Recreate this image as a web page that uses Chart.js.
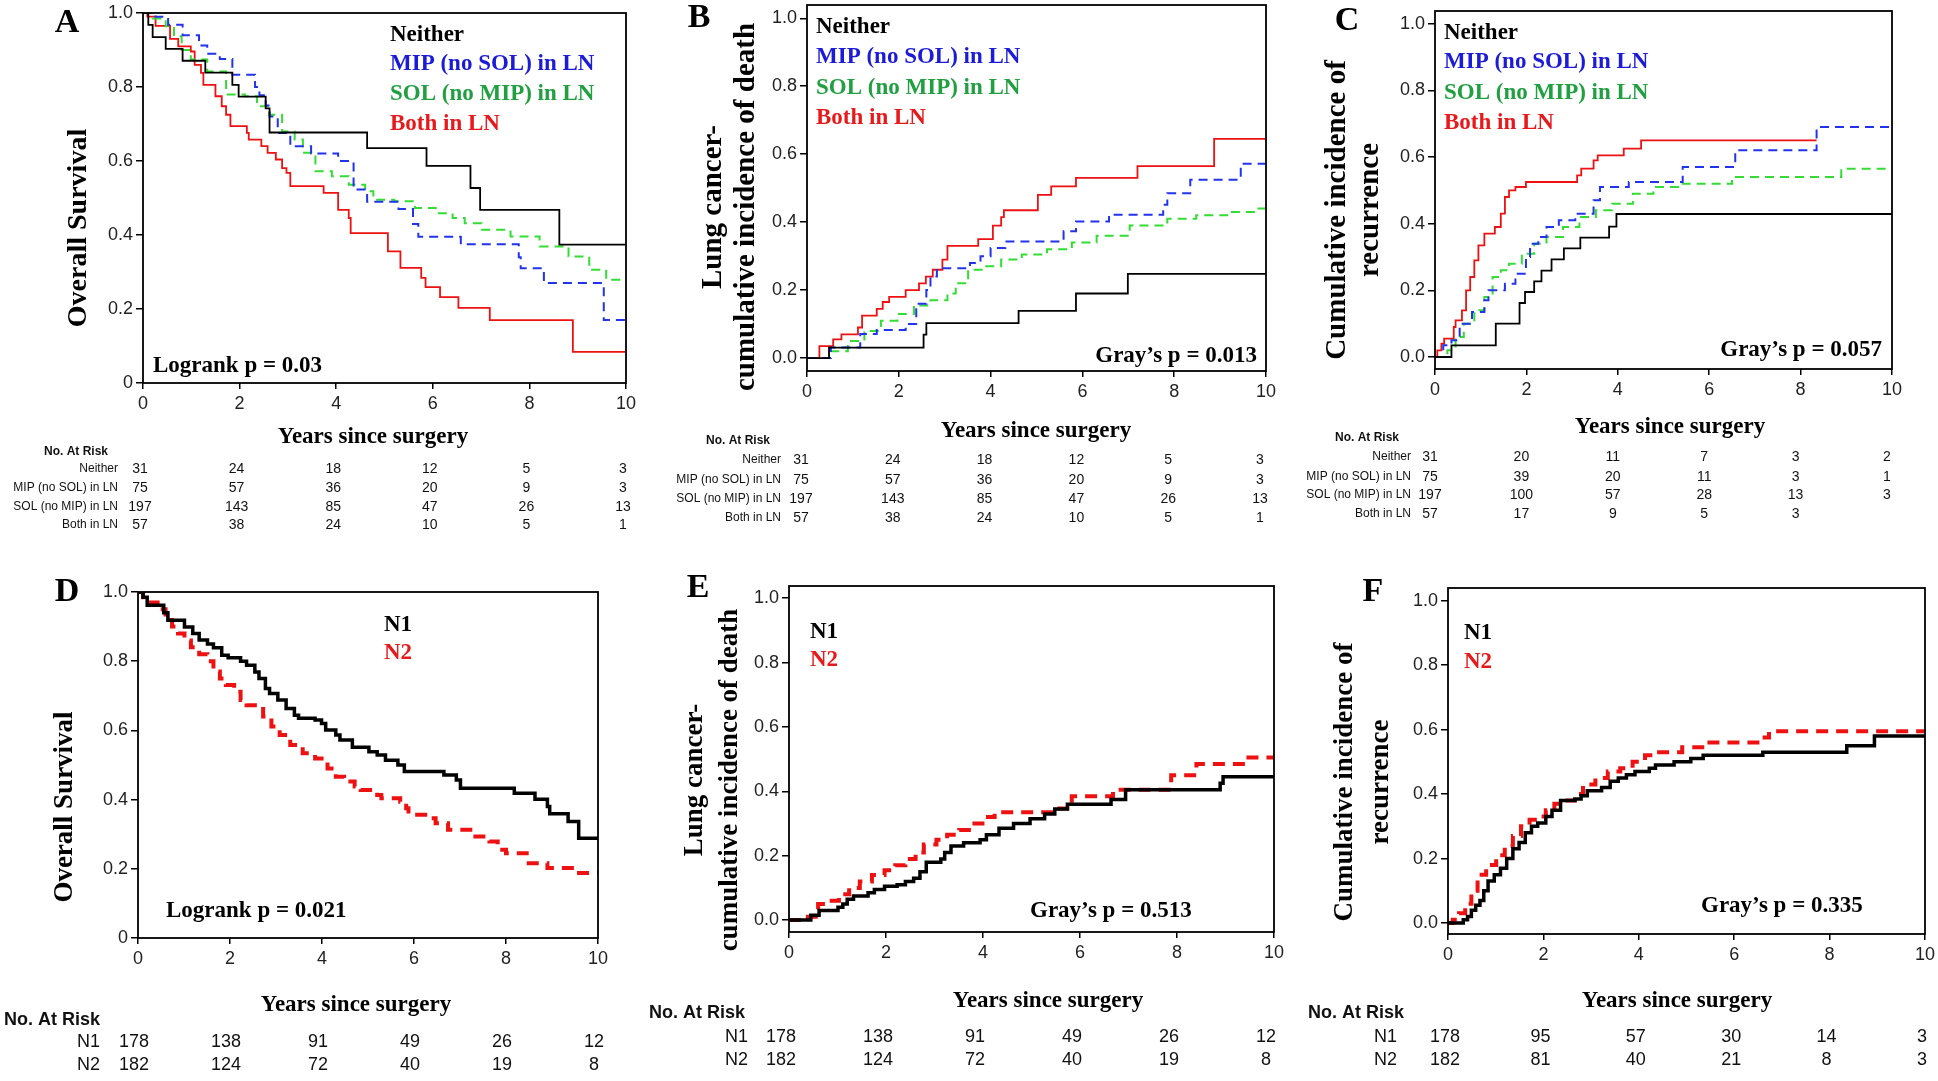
<!DOCTYPE html>
<html>
<head>
<meta charset="utf-8">
<script src="https://cdn.jsdelivr.net/npm/chart.js@4.4.1/dist/chart.umd.min.js"></script>
<style>
  body { margin: 0; background: #fff; width: 1938px; height: 1081px; overflow: hidden; position: relative; }
</style>
</head>
<body>
<script>
// ---- data (years since surgery, value after the step) ----
const xTickValues = [0, 2, 4, 6, 8, 10];
const yTickValues = [0, 0.2, 0.4, 0.6, 0.8, 1.0];
const groupsABC = ['Neither', 'MIP (no SOL) in LN', 'SOL (no MIP) in LN', 'Both in LN'];
const groupsDEF = ['N1', 'N2'];

// A: overall survival
const survNeither = [[0,1],[0.11,0.968],[0.2,0.935],[0.47,0.903],[0.82,0.871],[1.29,0.839],[1.85,0.806],[1.98,0.774],[2.54,0.742],[2.62,0.677],[4.64,0.635],[5.87,0.587],[6.78,0.527],[6.98,0.468],[8.62,0.374],[10,0.374]];
const survMIP = [[0,1],[0.26,0.99],[0.52,0.968],[0.82,0.94],[1.16,0.912],[1.33,0.89],[1.59,0.876],[1.85,0.833],[2.32,0.8],[2.41,0.778],[2.54,0.75],[2.62,0.72],[2.79,0.676],[3.05,0.64],[3.48,0.62],[4.04,0.6],[4.36,0.523],[4.64,0.49],[5.29,0.47],[5.59,0.43],[5.7,0.395],[6.58,0.375],[7.78,0.34],[7.82,0.31],[8.3,0.27],[9.54,0.17],[10,0.17]];
const survSOL = [[0,1],[0.2,0.985],[0.47,0.964],[0.64,0.937],[0.8,0.9],[0.99,0.874],[1.33,0.842],[1.72,0.78],[2.11,0.775],[2.36,0.748],[2.62,0.725],[2.88,0.68],[3.14,0.658],[3.31,0.622],[3.57,0.572],[3.91,0.559],[4.26,0.536],[4.6,0.518],[4.77,0.495],[5.2,0.491],[5.63,0.473],[6.06,0.459],[6.41,0.446],[6.66,0.432],[7.01,0.414],[7.61,0.396],[8.21,0.369],[8.81,0.342],[9.24,0.306],[9.59,0.279],[10,0.279]];
const survBoth = [[0,1],[0.09,0.99],[0.26,0.965],[0.56,0.93],[0.73,0.91],[0.99,0.896],[1.07,0.86],[1.2,0.838],[1.25,0.806],[1.5,0.775],[1.63,0.748],[1.72,0.725],[1.81,0.694],[2.15,0.676],[2.19,0.658],[2.45,0.64],[2.58,0.622],[2.75,0.604],[2.88,0.581],[2.97,0.568],[3.05,0.532],[3.74,0.514],[4.04,0.468],[4.26,0.446],[4.3,0.405],[5.07,0.356],[5.33,0.311],[5.76,0.284],[5.85,0.259],[6.15,0.232],[6.53,0.203],[7.18,0.17],[8.9,0.084],[10,0.084]];

// B: lung cancer cumulative incidence of death
const deathNeither = [[0,0],[0.48,0.031],[2.54,0.069],[2.6,0.103],[4.61,0.139],[5.86,0.19],[6.99,0.248],[10,0.248]];
const deathMIP = [[0,0],[0.52,0.031],[1.16,0.071],[1.52,0.083],[2.15,0.1],[2.38,0.16],[2.6,0.2],[2.69,0.24],[2.83,0.264],[3.55,0.28],[3.78,0.3],[4.0,0.324],[4.32,0.343],[5.59,0.373],[5.86,0.402],[6.58,0.422],[7.76,0.451],[7.85,0.485],[8.35,0.525],[9.45,0.572],[10,0.572]];
const deathSOL = [[0,0],[0.52,0.02],[0.89,0.05],[1.25,0.08],[1.61,0.11],[1.97,0.13],[2.33,0.155],[2.69,0.17],[3.06,0.19],[3.24,0.22],[3.51,0.26],[3.87,0.27],[4.23,0.29],[4.68,0.305],[5.23,0.32],[5.77,0.34],[6.31,0.36],[7.03,0.39],[7.85,0.41],[8.48,0.42],[9.2,0.43],[9.8,0.44],[10,0.44]];
const deathBoth = [[0,0],[0.27,0.035],[0.57,0.055],[0.75,0.07],[1.11,0.09],[1.2,0.125],[1.52,0.145],[1.65,0.165],[1.79,0.18],[2.15,0.2],[2.44,0.22],[2.59,0.24],[2.74,0.26],[2.95,0.29],[3.06,0.33],[3.73,0.35],[4.05,0.39],[4.23,0.415],[4.29,0.435],[5.03,0.48],[5.32,0.505],[5.86,0.53],[7.2,0.565],[8.87,0.645],[10,0.645]];

// C: cumulative incidence of recurrence
const recurNeither = [[0,0],[0.36,0.035],[1.33,0.1],[1.85,0.162],[1.97,0.195],[2.17,0.227],[2.33,0.259],[2.55,0.293],[2.82,0.326],[3.18,0.358],[3.81,0.391],[3.97,0.429],[10,0.429]];
const recurMIP = [[0,0],[0.18,0.035],[0.36,0.05],[0.54,0.1],[0.81,0.135],[1.08,0.17],[1.17,0.2],[1.53,0.22],[1.76,0.25],[1.99,0.3],[2.08,0.34],[2.26,0.36],[2.44,0.39],[2.71,0.41],[3.07,0.43],[3.47,0.47],[3.61,0.51],[4.24,0.525],[5.42,0.57],[6.57,0.62],[8.35,0.69],[10,0.69]];
const recurSOL = [[0,0],[0.27,0.02],[0.45,0.06],[0.63,0.1],[0.86,0.14],[1.08,0.18],[1.26,0.24],[1.44,0.26],[1.62,0.28],[1.9,0.31],[2.17,0.34],[2.44,0.36],[2.8,0.39],[3.16,0.42],[3.52,0.44],[3.88,0.46],[4.33,0.49],[4.78,0.51],[5.32,0.52],[6.5,0.54],[8.89,0.565],[10,0.565]];
const recurBoth = [[0,0],[0.05,0.02],[0.14,0.04],[0.2,0.055],[0.41,0.09],[0.45,0.11],[0.59,0.14],[0.68,0.2],[0.77,0.24],[0.86,0.29],[0.95,0.335],[1.08,0.37],[1.31,0.39],[1.44,0.43],[1.53,0.48],[1.62,0.5],[1.76,0.51],[1.99,0.525],[3.11,0.545],[3.2,0.565],[3.47,0.59],[3.56,0.605],[4.13,0.625],[4.51,0.65],[8.35,0.65]];

// D: overall survival N1 / N2
const survN1 = [[0,1],[0.11,0.985],[0.2,0.962],[0.56,0.94],[0.65,0.918],[1.01,0.899],[1.19,0.88],[1.33,0.861],[1.51,0.85],[1.64,0.839],[1.82,0.817],[1.96,0.81],[2.23,0.8],[2.36,0.788],[2.54,0.769],[2.63,0.75],[2.77,0.721],[2.86,0.707],[3.04,0.688],[3.22,0.663],[3.4,0.644],[3.49,0.635],[3.85,0.63],[3.99,0.62],[4.08,0.601],[4.3,0.587],[4.39,0.572],[4.66,0.551],[5.02,0.538],[5.2,0.529],[5.38,0.514],[5.65,0.5],[5.79,0.481],[6.65,0.471],[6.92,0.457],[7.01,0.433],[8.18,0.418],[8.63,0.401],[8.9,0.38],[8.95,0.359],[9.35,0.337],[9.58,0.288],[10,0.288]];
const survN2 = [[0,1],[0.11,0.985],[0.24,0.97],[0.47,0.95],[0.6,0.925],[0.74,0.9],[0.87,0.88],[1.01,0.86],[1.15,0.84],[1.33,0.82],[1.51,0.8],[1.64,0.77],[1.78,0.75],[1.91,0.731],[2.09,0.712],[2.23,0.688],[2.36,0.673],[2.59,0.668],[2.72,0.64],[2.9,0.611],[3.08,0.587],[3.31,0.558],[3.58,0.534],[3.85,0.519],[4.12,0.49],[4.3,0.466],[4.48,0.452],[4.71,0.438],[4.84,0.428],[5.2,0.413],[5.29,0.404],[5.7,0.394],[5.83,0.375],[5.88,0.356],[6.38,0.346],[6.47,0.332],[6.74,0.313],[7.28,0.293],[7.64,0.279],[7.82,0.255],[8.0,0.245],[8.45,0.216],[8.9,0.202],[9.53,0.188],[10,0.188]];

// E: lung cancer death N1 / N2
const deathN1 = [[0,0],[0.45,0.015],[0.62,0.03],[1.01,0.04],[1.11,0.05],[1.2,0.065],[1.33,0.075],[1.63,0.085],[1.76,0.095],[1.97,0.105],[2.23,0.11],[2.4,0.12],[2.57,0.13],[2.7,0.15],[2.83,0.18],[3.13,0.19],[3.21,0.21],[3.34,0.23],[3.6,0.24],[3.94,0.25],[4.07,0.265],[4.33,0.285],[4.63,0.3],[4.97,0.315],[5.27,0.33],[5.48,0.345],[5.74,0.36],[6.64,0.375],[6.94,0.405],[8.89,0.425],[8.95,0.445],[10,0.445]];
const deathN2 = [[0,0],[0.39,0.01],[0.6,0.05],[0.77,0.06],[1.03,0.08],[1.24,0.1],[1.46,0.12],[1.71,0.14],[1.97,0.155],[2.19,0.17],[2.4,0.19],[2.61,0.21],[2.78,0.235],[3.04,0.25],[3.26,0.265],[3.51,0.28],[3.77,0.3],[4.03,0.32],[4.24,0.335],[5.48,0.347],[5.83,0.385],[6.68,0.405],[7.88,0.45],[8.4,0.485],[9.43,0.505],[10,0.505]];

// F: recurrence N1 / N2
const recurN1 = [[0,0],[0.32,0.01],[0.41,0.02],[0.49,0.04],[0.58,0.055],[0.67,0.07],[0.75,0.1],[0.84,0.13],[0.97,0.15],[1.1,0.17],[1.23,0.2],[1.36,0.23],[1.49,0.25],[1.62,0.28],[1.75,0.3],[1.88,0.31],[2.05,0.33],[2.18,0.35],[2.36,0.38],[2.66,0.385],[2.79,0.395],[2.92,0.41],[3.22,0.42],[3.4,0.44],[3.57,0.45],[3.74,0.46],[3.92,0.47],[4.22,0.48],[4.35,0.49],[4.74,0.5],[5.09,0.51],[5.35,0.52],[6.6,0.53],[8.36,0.55],[8.94,0.58],[10,0.58]];
const recurN2 = [[0,0],[0.1,0.01],[0.23,0.03],[0.36,0.06],[0.49,0.1],[0.62,0.15],[0.8,0.18],[1.01,0.21],[1.19,0.24],[1.36,0.27],[1.53,0.3],[1.71,0.32],[1.88,0.33],[2.05,0.35],[2.23,0.37],[2.4,0.38],[2.66,0.4],[2.83,0.43],[3.09,0.45],[3.35,0.47],[3.61,0.48],[3.87,0.5],[4.13,0.52],[4.31,0.53],[4.91,0.545],[5.43,0.56],[6.56,0.575],[6.73,0.595],[10,0.595]];

// numbers at risk at 0, 2, 4, 6, 8, 10 years
const riskA = [[31,24,18,12,5,3],[75,57,36,20,9,3],[197,143,85,47,26,13],[57,38,24,10,5,1]];
const riskB = [[31,24,18,12,5,3],[75,57,36,20,9,3],[197,143,85,47,26,13],[57,38,24,10,5,1]];
const riskC = [[31,20,11,7,3,2],[75,39,20,11,3,1],[197,100,57,28,13,3],[57,17,9,5,3,null]];
const riskD = [[178,138,91,49,26,12],[182,124,72,40,19,8]];
const riskE = [[178,138,91,49,26,12],[182,124,72,40,19,8]];
const riskF = [[178,95,57,30,14,3],[182,81,40,21,8,3]];

// ---- styles ----
const SERIF = '"Liberation Serif", "Times New Roman", serif';
const SANS = '"Liberation Sans", Arial, sans-serif';
const stylesABC = [
  { color: '#000000', width: 1.8, dash: [] },
  { color: '#2233ee', width: 2, dash: [9, 6] },
  { color: '#33dd33', width: 2, dash: [9, 6] },
  { color: '#ee1111', width: 1.8, dash: [] }
];
const stylesDEF = [
  { color: '#000000', width: 3.5, dash: [] },
  { color: '#ee1111', width: 4, dash: [12, 8] }
];
const textColorsABC = ['#000000', '#1b1bd9', '#20a040', '#e8191b'];
const textColorsDEF = ['#000000', '#e8191b'];

// page-coordinate layout of each panel
const panels = [
  { letter: 'A', origin: [0, 0], size: [645, 550], area: [143, 13, 626, 383], yRange: [0, 1], zero: '0',
    series: [survNeither, survMIP, survSOL, survBoth], styles: stylesABC, groups: groupsABC, colors: textColorsABC,
    yTitle: ['Overall Survival'], yTitleX: [79], yTitleY: 228, yTitleSize: 28,
    letterPos: [67, 23], legendX: 390, legendY: [35, 64, 94, 124],
    stat: 'Logrank p = 0.03', statPos: [153, 366], statAlign: 'left',
    xTitlePos: [373, 437], risk: riskA, head: [44, 452], labelX: 118, rows: [469, 488, 507, 525], dx: -3, tfont: [12, 12, 14] },
  { letter: 'B', origin: [645, 0], size: [645, 550], area: [807, 5, 1266, 371], yRange: [-0.038, 1.039], zero: '0.0',
    series: [deathNeither, deathMIP, deathSOL, deathBoth], styles: stylesABC, groups: groupsABC, colors: textColorsABC,
    yTitle: ['Lung cancer-', 'cumulative incidence of death'], yTitleX: [714, 747], yTitleY: 207, yTitleSize: 29,
    letterPos: [699, 18], legendX: 816, legendY: [27, 57, 88, 118],
    stat: 'Gray\u2019s p = 0.013', statPos: [1257, 356], statAlign: 'right',
    xTitlePos: [1036, 431], risk: riskB, head: [706, 441], labelX: 781, rows: [460, 480, 499, 518], dx: -6, tfont: [12, 12, 14] },
  { letter: 'C', origin: [1290, 0], size: [648, 550], area: [1435, 11, 1892, 369], yRange: [-0.036, 1.038], zero: '0.0',
    series: [recurNeither, recurMIP, recurSOL, recurBoth], styles: stylesABC, groups: groupsABC, colors: textColorsABC,
    yTitle: ['Cumulative incidence of', 'recurrence'], yTitleX: [1338, 1371], yTitleY: 210, yTitleSize: 29,
    letterPos: [1347, 21], legendX: 1444, legendY: [33, 62, 93, 123],
    stat: 'Gray\u2019s p = 0.057', statPos: [1882, 350], statAlign: 'right',
    xTitlePos: [1670, 427], risk: riskC, head: [1335, 438], labelX: 1411, rows: [457, 477, 495, 514], dx: -5, tfont: [12, 12, 14] },
  { letter: 'D', origin: [0, 550], size: [645, 531], area: [138, 592, 598, 938], yRange: [0, 1], zero: '0',
    series: [survN1, survN2], styles: stylesDEF, groups: groupsDEF, colors: textColorsDEF,
    yTitle: ['Overall Survival'], yTitleX: [65], yTitleY: 807, yTitleSize: 27,
    letterPos: [67, 592], legendX: 384, legendY: [625, 653],
    stat: 'Logrank p = 0.021', statPos: [166, 911], statAlign: 'left',
    xTitlePos: [356, 1005], risk: riskD, head: [4, 1020], labelX: 100, rows: [1042, 1065], dx: -4, tfont: [18, 18, 18] },
  { letter: 'E', origin: [645, 550], size: [645, 531], area: [789, 586, 1274, 932], yRange: [-0.037, 1.038], zero: '0.0',
    series: [deathN1, deathN2], styles: stylesDEF, groups: groupsDEF, colors: textColorsDEF,
    yTitle: ['Lung cancer-', 'cumulative incidence of death'], yTitleX: [695, 730], yTitleY: 780, yTitleSize: 27,
    letterPos: [698, 588], legendX: 810, legendY: [632, 660],
    stat: 'Gray\u2019s p = 0.513', statPos: [1030, 911], statAlign: 'left',
    xTitlePos: [1048, 1001], risk: riskE, head: [649, 1013], labelX: 748, rows: [1037, 1060], dx: -8, tfont: [18, 18, 18] },
  { letter: 'F', origin: [1290, 550], size: [648, 531], area: [1448, 588, 1925, 934], yRange: [-0.034, 1.039], zero: '0.0',
    series: [recurN1, recurN2], styles: stylesDEF, groups: groupsDEF, colors: textColorsDEF,
    yTitle: ['Cumulative incidence of', 'recurrence'], yTitleX: [1345, 1381], yTitleY: 782, yTitleSize: 27,
    letterPos: [1373, 592], legendX: 1464, legendY: [633, 662],
    stat: 'Gray\u2019s p = 0.335', statPos: [1701, 906], statAlign: 'left',
    xTitlePos: [1677, 1001], risk: riskF, head: [1308, 1013], labelX: 1397, rows: [1037, 1060], dx: -3, tfont: [18, 18, 18] }
];

const Y_W = 60;  // fixed y-axis box width
const X_H = 40;  // fixed x-axis box height

// draws frame, labels, legend text, p-value and the at-risk table
function makeDecor(p) {
  return {
    id: 'decor' + p.letter,
    afterDraw(chart) {
      const { ctx, chartArea: a, scales } = chart;
      const ox = p.origin[0], oy = p.origin[1];
      const text = (s, x, y, font, color, align) => {
        ctx.font = font;
        ctx.fillStyle = color;
        ctx.textAlign = align || 'left';
        ctx.textBaseline = 'middle';
        ctx.fillText(s, x - ox, y - oy);
      };
      ctx.save();
      ctx.strokeStyle = '#000';
      ctx.lineWidth = 1.8;
      ctx.strokeRect(a.left, a.top, a.right - a.left, a.bottom - a.top);

      text(p.letter, p.letterPos[0], p.letterPos[1], 'bold 34px ' + SERIF, '#000', 'center');

      // rotated y title
      p.yTitle.forEach((line, i) => {
        ctx.save();
        ctx.translate(p.yTitleX[i] - ox, p.yTitleY - oy);
        ctx.rotate(-Math.PI / 2);
        ctx.font = 'bold ' + p.yTitleSize + 'px ' + SERIF;
        ctx.fillStyle = '#000';
        ctx.textAlign = 'center';
        ctx.textBaseline = 'middle';
        ctx.fillText(line, 0, 0);
        ctx.restore();
      });

      p.groups.forEach((g, i) => {
        text(g, p.legendX, p.legendY[i], 'bold 23px ' + SERIF, p.colors[i], 'left');
      });
      text(p.stat, p.statPos[0], p.statPos[1], 'bold 23px ' + SERIF, '#000', p.statAlign);
      text('Years since surgery', p.xTitlePos[0], p.xTitlePos[1], 'bold 23px ' + SERIF, '#000', 'center');

      // number at risk
      const [headSize, labelSize, numSize] = p.tfont;
      text('No. At Risk', p.head[0], p.head[1], 'bold ' + headSize + 'px ' + SANS, '#111', 'left');
      p.risk.forEach((row, r) => {
        text(p.groups[r], p.labelX, p.rows[r], labelSize + 'px ' + SANS, '#111', 'right');
        row.forEach((n, k) => {
          if (n === null) return;
          const px = scales.x.getPixelForValue(xTickValues[k]) + ox + p.dx;
          text(String(n), px, p.rows[r], numSize + 'px ' + SANS, '#111', 'center');
        });
      });
      ctx.restore();
    }
  };
}

panels.forEach(p => {
  const wrap = document.createElement('div');
  wrap.style.cssText = `position:absolute;left:${p.origin[0]}px;top:${p.origin[1]}px;width:${p.size[0]}px;height:${p.size[1]}px`;
  const canvas = document.createElement('canvas');
  canvas.width = p.size[0];
  canvas.height = p.size[1];
  canvas.style.width = p.size[0] + 'px';
  canvas.style.height = p.size[1] + 'px';
  wrap.appendChild(canvas);
  document.body.appendChild(wrap);

  new Chart(canvas, {
    type: 'line',
    data: {
      datasets: p.series.map((s, i) => ({
        data: s.map(([x, y]) => ({ x, y })),
        stepped: 'before',
        borderColor: p.styles[i].color,
        borderWidth: p.styles[i].width,
        borderDash: p.styles[i].dash,
        pointRadius: 0,
        fill: false
      }))
    },
    options: {
      responsive: false,
      animation: false,
      events: [],
      layout: {
        padding: {
          left: p.area[0] - p.origin[0] - Y_W,
          top: p.area[1] - p.origin[1],
          right: p.origin[0] + p.size[0] - p.area[2],
          bottom: p.origin[1] + p.size[1] - p.area[3] - X_H
        }
      },
      plugins: { legend: { display: false }, tooltip: { enabled: false } },
      scales: {
        x: {
          type: 'linear', min: 0, max: 10,
          ticks: { stepSize: 2, maxRotation: 0, padding: 4, color: '#222', font: { family: SANS, size: 18 } },
          grid: { drawOnChartArea: false, color: '#000', lineWidth: 1.5, tickLength: 6 },
          border: { display: false },
          afterBuildTicks: s => { s.ticks = xTickValues.map(v => ({ value: v })); },
          afterFit: s => { s.height = X_H; s.paddingLeft = 0; s.paddingRight = 0; }
        },
        y: {
          type: 'linear', min: p.yRange[0], max: p.yRange[1],
          ticks: {
            padding: 3, color: '#222', font: { family: SANS, size: 18 },
            callback: v => (Math.abs(v) < 1e-9 ? p.zero : v.toFixed(1))
          },
          grid: { drawOnChartArea: false, color: '#000', lineWidth: 1.5, tickLength: 7 },
          border: { display: false },
          afterBuildTicks: s => { s.ticks = yTickValues.map(v => ({ value: v })); },
          afterFit: s => { s.width = Y_W; s.paddingTop = 0; s.paddingBottom = 0; }
        }
      }
    },
    plugins: [makeDecor(p)]
  });
});
</script>
</body>
</html>
